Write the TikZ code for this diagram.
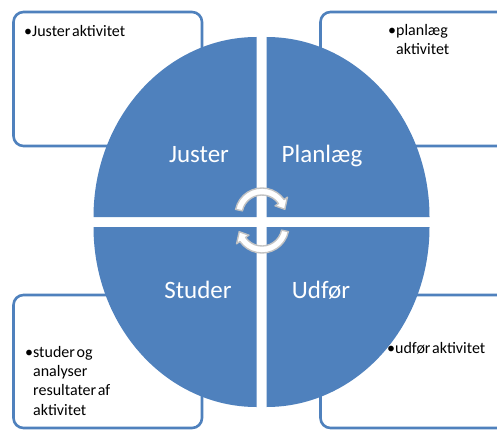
\documentclass[tikz,border=0pt]{standalone}
\usepackage{fontspec}
\setmainfont{Carlito}
\newfontfamily\itemfont[WordSpace=0.45]{Carlito}
\usetikzlibrary{calc}
\definecolor{cycleblue}{RGB}{79,129,189}
\definecolor{turngray}{RGB}{195,195,195}

\begin{document}
\begin{tikzpicture}[x=1pt,y=1pt,
    box/.style={draw=cycleblue,line width=2.6pt,fill=white,rounded corners=10pt},
    quarter/.style={fill=cycleblue},
    phase/.style={text=white,font=\fontsize{25}{30}\selectfont,inner sep=0pt,anchor=base},
    item/.style={text=black,font=\itemfont\fontsize{16}{19.3}\selectfont,align=left,
                 inner sep=0pt,anchor=base west}]
  \tikzstyle{turn}=[fill=white,draw=turngray,line width=1.4pt,line join=round]

  \clip (0,0) rectangle (497,429);
  \fill[white] (0,0) rectangle (497,429);

  % boxes behind the circle
  \draw[box] (13.5,417) rectangle (202,283);
  \draw[box] (320.5,417) rectangle (540,283);
  \draw[box] (13.5,134) rectangle (202,1);
  \draw[box] (320.5,134) rectangle (540,1);

  % the four quarters
  \coordinate (c) at (261.5,207);
  \fill[quarter] ($(c)+(5,5)$) -- ++(163,0) arc[start angle=0,end angle=90,x radius=163,y radius=180] -- cycle;
  \fill[quarter] ($(c)+(-5,5)$) -- ++(0,180) arc[start angle=90,end angle=180,x radius=163,y radius=180] -- cycle;
  \fill[quarter] ($(c)+(-5,-5)$) -- ++(-163,0) arc[start angle=180,end angle=270,x radius=163,y radius=180] -- cycle;
  \fill[quarter] ($(c)+(5,-5)$) -- ++(0,-180) arc[start angle=270,end angle=360,x radius=163,y radius=180] -- cycle;

  \node[phase] (juster)   at (199,267) {Juster};
  \node[phase] (planlaeg) at (322,267) {Planlæg};
  \node[phase] (studer)   at (198,131) {Studer};
  \node[phase] (udfor)    at (321,131) {Udfør};

  % base of a box text is its last line
  \node[item] (justerakt) at (24,392)  {•Juster aktivitet};
  \node[item] (planakt)   at (388,374) {•planlæg\\\phantom{•}aktivitet};
  \node[item] (studerakt) at (25,14)   {•studer og\\\phantom{•}analyser\\\phantom{•}resultater af\\\phantom{•}aktivitet};
  \node[item] (udforakt)  at (387,76)  {•udfør aktivitet};

  % circular arrows in the middle
  \coordinate (t) at (262,214);
  \coordinate (b) at (262,203);
  \filldraw[turn] ($(t)+(168:27)$) arc[start angle=168,end angle=35,radius=27]
    -- ($(t)+(35:31)$) -- ($(t)+(14:23.5)$) -- ($(t)+(35:16)$) -- ($(t)+(35:20)$)
    arc[start angle=35,end angle=168,radius=20] -- cycle;
  \filldraw[turn] ($(b)+(348:27)$) arc[start angle=348,end angle=215,radius=27]
    -- ($(b)+(215:31)$) -- ($(b)+(194:23.5)$) -- ($(b)+(215:16)$) -- ($(b)+(215:20)$)
    arc[start angle=215,end angle=348,radius=20] -- cycle;
\end{tikzpicture}
\end{document}
